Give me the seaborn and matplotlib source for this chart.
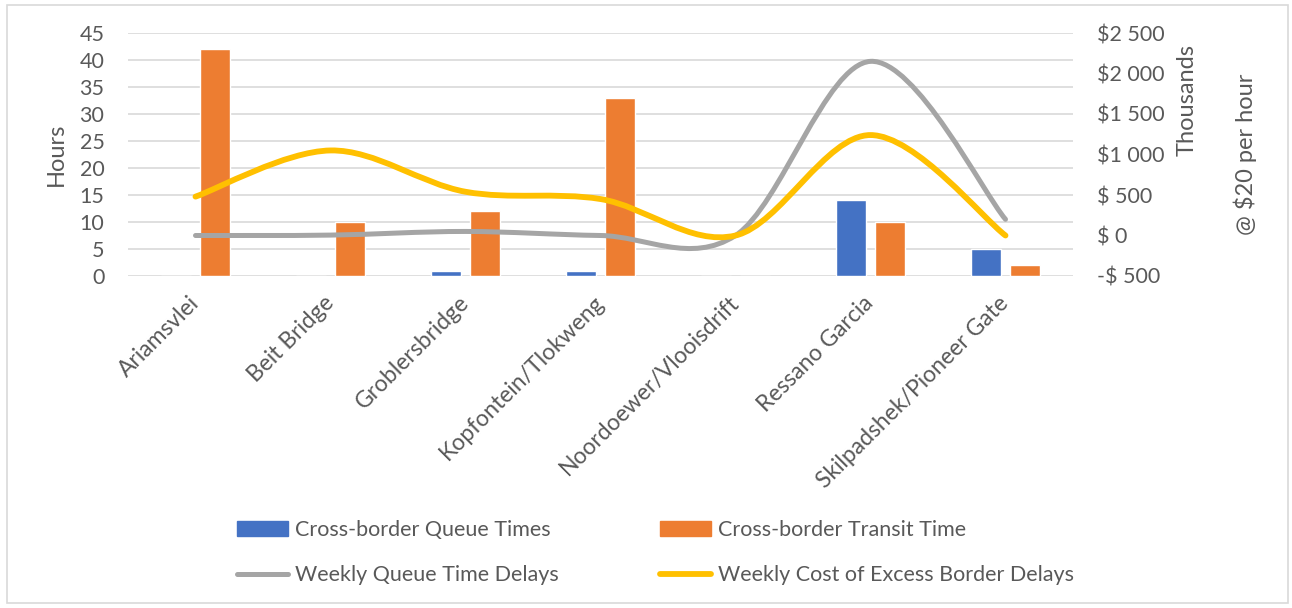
import numpy as np
import pandas as pd
import matplotlib
matplotlib.use("Agg")
import matplotlib.pyplot as plt
from matplotlib.path import Path
from matplotlib.patches import PathPatch, Rectangle
from matplotlib.lines import Line2D
from matplotlib.ticker import FuncFormatter, MultipleLocator
import seaborn as sns

# ---- data ----
crossings = ["Ariamsvlei", "Beit Bridge", "Groblersbridge", "Kopfontein/Tlokweng",
             "Noordoewer/Vlooisdrift", "Ressano Garcia", "Skilpadshek/Pioneer Gate"]
queue_hours = [0, 0, 1, 1, 0, 14, 5]
transit_hours = [42, 10, 12, 33, 0, 10, 2]
weekly_queue_delay_k = [0, 5, 50, 0, 0, 2150, 200]        # $ thousands
weekly_cost_excess_k = [480, 1050, 540, 450, 0, 1240, 0]   # $ thousands

bar_labels = ["Cross-border Queue Times", "Cross-border Transit Time"]
line_labels = ["Weekly Queue Time Delays", "Weekly Cost of Excess Border Delays"]

C_BLUE, C_ORANGE, C_GRAY, C_YELLOW = "#4472C4", "#ED7D31", "#A5A5A5", "#FFC000"
TXT = "#595959"
GRID = "#D9D9D9"
FS = 15.5

sns.set_theme(style="white")
plt.rcParams["font.family"] = ["Lato", "DejaVu Sans"]
plt.rcParams["text.color"] = TXT

df = pd.DataFrame({
    "crossing": crossings * 2,
    "hours": queue_hours + transit_hours,
    "series": [bar_labels[0]] * len(crossings) + [bar_labels[1]] * len(crossings),
})

W, H = 1292, 608
fig = plt.figure(figsize=(W / 100, H / 100), dpi=100)
ax = fig.add_axes([128 / W, 1 - 276 / H, (1073 - 128) / W, (276 - 33) / H])

sns.barplot(data=df, x="crossing", y="hours", hue="series", order=crossings,
            hue_order=bar_labels, palette=[C_BLUE, C_ORANGE], width=0.576, gap=0.23,
            saturation=1, legend=False, ax=ax, zorder=2)

ax.set_xlim(-0.5, len(crossings) - 0.5)
ax.set_ylim(0, 45)
ax.yaxis.set_major_locator(MultipleLocator(5))
ax.grid(axis="y", color=GRID, linewidth=1.2, zorder=0)
ax.set_axisbelow(True)
for s in ax.spines.values():
    s.set_visible(False)
ax.tick_params(axis="both", length=0, labelsize=FS, colors=TXT)
ax.tick_params(axis="y", pad=17)
ax.set_xlabel("")
ax.set_ylabel("Hours", fontsize=17, color=TXT)
ax.yaxis.set_label_coords((67 - 128) / (1073 - 128), 0.5)
plt.setp(ax.get_xticklabels(), rotation=45, ha="right", va="center",
         rotation_mode="anchor", fontsize=16.5)
ax.tick_params(axis="x", pad=17)

# secondary axis for the dollar series
ax2 = ax.twinx()
ax2.set_ylim(-500, 2500)
ax2.yaxis.set_major_locator(MultipleLocator(500))


def money(v, _):
    v = int(round(v))
    s = f"{abs(v):,}".replace(",", " ")
    if v < 0:
        return f"-$ {s}"
    if v < 1000:
        return f"$ {s}"
    return f"${s}"


ax2.yaxis.set_major_formatter(FuncFormatter(money))
ax2.tick_params(axis="y", length=0, labelsize=FS, colors=TXT, pad=17)
for s in ax2.spines.values():
    s.set_visible(False)
ax2.grid(False)


def smooth_path(xs, ys):
    """Cubic Bezier path through the points (Catmull-Rom style control points)."""
    pts = np.column_stack([xs, ys]).astype(float)
    n = len(pts)
    verts = [pts[0]]
    codes = [Path.MOVETO]
    for i in range(n - 1):
        p0 = pts[i - 1] if i > 0 else pts[i]
        p1, p2 = pts[i], pts[i + 1]
        p3 = pts[i + 2] if i + 2 < n else pts[i + 1]
        verts += [p1 + (p2 - p0) / 6, p2 - (p3 - p1) / 6, p2]
        codes += [Path.CURVE4] * 3
    return Path(verts, codes)


xpos = np.arange(len(crossings))
for vals, col, lw in [(weekly_queue_delay_k, C_GRAY, 3.6),
                      (weekly_cost_excess_k, C_YELLOW, 4.2)]:
    patch = PathPatch(smooth_path(xpos, vals), facecolor="none", edgecolor=col,
                      linewidth=lw, capstyle="round", joinstyle="round", zorder=3)
    ax2.add_patch(patch)

fig.text(1187 / W, 1 - 100 / H, "Thousands", rotation=90, ha="center",
         va="center", fontsize=17, color=TXT)
fig.text(1245 / W, 1 - 154 / H, "@ $20 per hour", rotation=90, ha="center",
         va="center", fontsize=17, color=TXT)

# legend: two columns, each its own legend anchored at the handle's left edge
col_entries = [
    ([Rectangle((0, 0), 1, 1, color=C_BLUE),
      Line2D([0], [0], color=C_GRAY, lw=3.6, solid_capstyle="round")],
     [bar_labels[0], line_labels[0]], 237),
    ([Rectangle((0, 0), 1, 1, color=C_ORANGE),
      Line2D([0], [0], color=C_YELLOW, lw=4.2, solid_capstyle="round")],
     [bar_labels[1], line_labels[1]], 660),
]
for hs, ls, x0 in col_entries:
    fig.legend(hs, ls, loc="center left", bbox_to_anchor=(x0 / W, 1 - 552.5 / H),
               frameon=False, fontsize=FS, labelcolor=TXT, handlelength=2.35,
               handletextpad=0.33, labelspacing=1.2, borderpad=0,
               borderaxespad=0)

# outer chart border
fig.add_artist(Rectangle((7 / W, 5 / H), (1288 - 7) / W, (603 - 5) / H,
                         transform=fig.transFigure, facecolor="none",
                         edgecolor=GRID, linewidth=1.2))

fig.savefig("out.png", dpi=100, facecolor="white")
